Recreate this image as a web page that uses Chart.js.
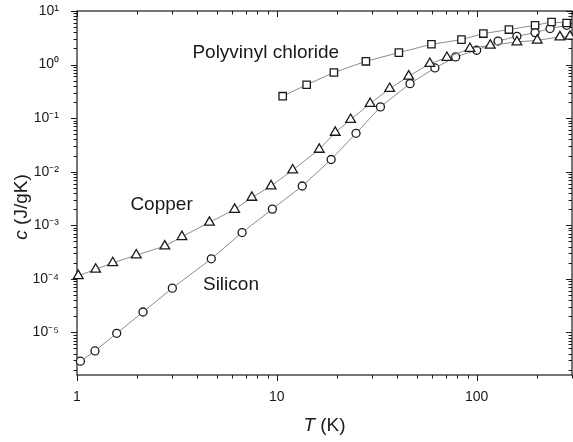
<!DOCTYPE html>
<html>
<head>
<meta charset="utf-8">
<script src="https://cdn.jsdelivr.net/npm/chart.js@4.4.0/dist/chart.umd.min.js"></script>
<style>
  html, body { margin: 0; padding: 0; background: #fff; }
  #wrap { width: 573px; height: 442px; }
</style>
</head>
<body>
<div id="wrap"><canvas id="grafico"></canvas></div>
<script>
// dati (T in K, c in J/gK)
var siliconT = [1.04, 1.23, 1.58, 2.14, 3.0, 4.7, 6.7, 9.5, 13.4, 18.7, 24.9, 33.0, 46.4, 61.8, 78.5, 100, 128, 159, 196, 233, 282];
var siliconC = [2.9e-6, 4.5e-6, 9.6e-6, 2.4e-5, 6.7e-5, 2.36e-4, 7.3e-4, 2.0e-3, 5.4e-3, 1.69e-2, 5.2e-2, 0.162, 0.44, 0.865, 1.39, 1.85, 2.75, 3.37, 3.95, 4.7, 5.4];

var copperT = [1.015, 1.24, 1.51, 1.98, 2.75, 3.35, 4.6, 6.15, 7.5, 9.36, 12.0, 16.3, 19.6, 23.4, 29.3, 36.7, 45.7, 58.3, 71, 92.5, 117, 159, 201, 261, 293];
var copperC = [1.14e-4, 1.5e-4, 1.99e-4, 2.77e-4, 4.07e-4, 6.1e-4, 1.13e-3, 1.97e-3, 3.3e-3, 5.4e-3, 1.07e-2, 2.6e-2, 5.4e-2, 9.4e-2, 0.187, 0.356, 0.605, 1.04, 1.35, 1.99, 2.29, 2.64, 2.84, 3.27, 3.37];

var pvcT = [10.7, 14.1, 19.3, 27.9, 40.8, 59.4, 83.9, 108, 145, 196, 237, 282];
var pvcC = [0.257, 0.42, 0.71, 1.15, 1.67, 2.39, 2.92, 3.79, 4.5, 5.41, 6.24, 5.97];

// tick
var xTicks = [1, 10, 100];
var yTicks = [1e-5, 1e-4, 1e-3, 1e-2, 1e-1, 1, 10];

// etichette dentro il grafico
var noteTesti = ['Polyvinyl chloride', 'Copper', 'Silicon'];
var noteT = [3.78, 1.85, 4.27];
var noteC = [1.35, 1.91e-3, 6.15e-5];

var X_MIN = 1, X_MAX = 300, Y_MIN = 1.6e-6, Y_MAX = 10;
var FONT = '"Liberation Sans", Arial, Helvetica, sans-serif';

var SUP = {'0':'\u2070','1':'\u00B9','2':'\u00B2','3':'\u00B3','4':'\u2074','5':'\u2075','6':'\u2076','7':'\u2077','8':'\u2078','9':'\u2079','-':'\u207B'};
function potenza(v){
    var e = Math.round(Math.log10(v));
    return '10' + String(e).split('').map(function(ch){ return SUP[ch]; }).join('');
}

function punti(xs, ys){
    return xs.map(function(t, i){ return {x: t, y: ys[i]}; });
}

function serie(label, xs, ys, stile, raggio){
    return {
        label: label,
        data: punti(xs, ys),
        borderColor: '#8c8c8c',
        borderWidth: 1,
        pointStyle: stile,
        pointRadius: raggio,
        pointBorderColor: '#1a1a1a',
        pointBorderWidth: 1.3,
        pointBackgroundColor: '#ffffff',
        clip: false,
        tension: 0
    };
}

// niente padding extra dalle etichette agli estremi
function senzaPadding(scale){
    scale.paddingTop = 0;
    scale.paddingBottom = 0;
    scale.paddingLeft = 0;
    scale.paddingRight = 0;
}

// cornice e tacche su tutti e quattro i lati
var cornice = {
    id: 'cornice',
    beforeDatasetsDraw: function(chart){
        var ctx = chart.ctx, a = chart.chartArea;
        var sx = chart.scales.x, sy = chart.scales.y;
        ctx.save();
        ctx.strokeStyle = '#1a1a1a';
        ctx.lineWidth = 1.2;
        ctx.strokeRect(a.left, a.top, a.right - a.left, a.bottom - a.top);
        ctx.lineWidth = 1;
        ctx.beginPath();
        for (var d = 1; d <= 100; d *= 10) {
            for (var m = 1; m <= 9; m++) {
                var v = m * d;
                if (v < X_MIN || v > X_MAX) continue;
                var px = Math.round(sx.getPixelForValue(v)) + 0.5;
                var len = m === 1 ? 6 : 3.5;
                ctx.moveTo(px, a.bottom); ctx.lineTo(px, a.bottom + len);
                ctx.moveTo(px, a.top); ctx.lineTo(px, a.top + len);
            }
        }
        for (var e = -6; e <= 1; e++) {
            for (var k = 1; k <= 9; k++) {
                var w = k * Math.pow(10, e);
                if (w < Y_MIN || w > Y_MAX * 1.0001) continue;
                var py = Math.round(sy.getPixelForValue(w)) + 0.5;
                var l2 = k === 1 ? 6 : 3.5;
                ctx.moveTo(a.left - l2, py); ctx.lineTo(a.left, py);
                ctx.moveTo(a.right - l2, py); ctx.lineTo(a.right, py);
            }
        }
        ctx.stroke();
        ctx.restore();
    },
    afterDatasetsDraw: function(chart){
        var ctx = chart.ctx, a = chart.chartArea;
        var sx = chart.scales.x, sy = chart.scales.y;
        ctx.save();
        ctx.fillStyle = '#1a1a1a';
        ctx.font = '19px ' + FONT;
        ctx.textAlign = 'left';
        ctx.textBaseline = 'alphabetic';
        for (var i = 0; i < noteTesti.length; i++) {
            ctx.fillText(noteTesti[i], sx.getPixelForValue(noteT[i]), sy.getPixelForValue(noteC[i]));
        }

        // titolo asse x: T (K)
        var corsivo = 'italic 19px ' + FONT, normale = '19px ' + FONT;
        ctx.font = corsivo; var w1 = ctx.measureText('T').width;
        ctx.font = normale; var w2 = ctx.measureText(' (K)').width;
        var cx = (a.left + a.right) / 2 - (w1 + w2) / 2;
        var by = a.bottom + 56;
        ctx.font = corsivo; ctx.fillText('T', cx, by);
        ctx.font = normale; ctx.fillText(' (K)', cx + w1, by);

        // titolo asse y: c (J/gK)
        ctx.translate(a.left - 50, 207);
        ctx.rotate(-Math.PI / 2);
        ctx.font = corsivo; var w3 = ctx.measureText('c').width;
        ctx.font = normale; var w4 = ctx.measureText(' (J/gK)').width;
        var sx0 = -(w3 + w4) / 2;
        ctx.font = corsivo; ctx.fillText('c', sx0, 0);
        ctx.font = normale; ctx.fillText(' (J/gK)', sx0 + w3, 0);
        ctx.restore();
    }
};

var ctx = document.getElementById('grafico').getContext('2d');
var grafico = new Chart(ctx, {
    type: 'line',
    data: {
        datasets: [
            serie('Polyvinyl chloride', pvcT, pvcC, 'rect', 5.2),
            serie('Copper', copperT, copperC, 'triangle', 5.6),
            serie('Silicon', siliconT, siliconC, 'circle', 4)
        ]
    },
    options: {
        responsive: true,
        maintainAspectRatio: false,
        animation: false,
        layout: { autoPadding: false, padding: { top: 11, right: 1, left: 0, bottom: 0 } },
        plugins: {
            legend: { display: false },
            tooltip: { enabled: false }
        },
        scales: {
            x: {
                type: 'logarithmic',
                min: X_MIN,
                max: X_MAX,
                grid: { display: false },
                border: { display: false },
                afterBuildTicks: function(scale){
                    scale.ticks = xTicks.map(function(v){ return {value: v}; });
                },
                afterFit: function(scale){ scale.height = 67; senzaPadding(scale); },
                ticks: {
                    autoSkip: false,
                    maxRotation: 0,
                    padding: 6,
                    color: '#1a1a1a',
                    font: { family: FONT, size: 14 },
                    callback: function(v){ return String(v); }
                }
            },
            y: {
                type: 'logarithmic',
                min: Y_MIN,
                max: Y_MAX,
                grid: { display: false },
                border: { display: false },
                afterBuildTicks: function(scale){
                    scale.ticks = yTicks.map(function(v){ return {value: v}; });
                },
                afterFit: function(scale){ scale.width = 77; senzaPadding(scale); },
                ticks: {
                    autoSkip: false,
                    padding: 10,
                    color: '#1a1a1a',
                    font: { family: FONT, size: 14 },
                    callback: function(v){ return potenza(v); }
                }
            }
        }
    },
    plugins: [cornice]
});
</script>
</body>
</html>
